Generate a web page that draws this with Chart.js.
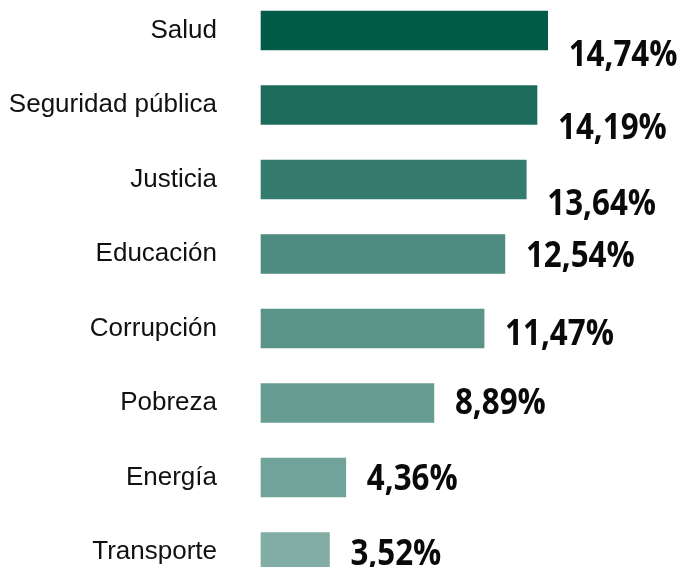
<!DOCTYPE html>
<html>
<head>
<meta charset="utf-8">
<script src="https://cdn.jsdelivr.net/npm/chart.js@4"></script>
<style>
  html, body { margin: 0; padding: 0; background: #fff; }
  .wrap { position: relative; width: 684px; height: 567px; }
</style>
</head>
<body>
<div class="wrap"><canvas id="topicsChart"></canvas></div>
<script>
const topics = ["Salud", "Seguridad pública", "Justicia", "Educación", "Corrupción", "Pobreza", "Energía", "Transporte"];
const shares = [14.74, 14.19, 13.64, 12.54, 11.47, 8.89, 4.36, 3.52];
const barColors = ["#025b49", "#1c6b5c", "#357b6f", "#4e8b80", "#5a9489", "#669c92", "#72a39a", "#82ada5"];

// value labels drawn next to each bar end (top three sit a bit lower, like the original)
const labelDrop = [22, 21, 22, 0, 3, -2, -1, 0];

const valueLabels = {
  id: "valueLabels",
  afterDatasetsDraw(chart) {
    const ctx = chart.ctx;
    const bars = chart.getDatasetMeta(0).data;
    ctx.save();
    ctx.fillStyle = "#0a0a0a";
    ctx.font = "700 36px 'Open Sans'";
    ctx.textBaseline = "alphabetic";
    ctx.textAlign = "left";
    bars.forEach((bar, i) => {
      const txt = shares[i].toFixed(2).replace(".", ",") + "%";
      ctx.save();
      ctx.translate(bar.x + 21, bar.y + labelDrop[i] + 13);
      ctx.scale(0.87, 1);
      ctx.fillText(txt, 0, 0);
      ctx.restore();
    });
    ctx.restore();
  }
};

new Chart(document.getElementById("topicsChart").getContext("2d"), {
  type: "bar",
  data: {
    labels: topics,
    datasets: [
      {
        data: shares,
        backgroundColor: barColors,
        borderWidth: 0,
        barThickness: 39,
        clip: false
      }
    ]
  },
  options: {
    indexAxis: "y",
    responsive: true,
    maintainAspectRatio: false,
    animation: false,
    layout: {
      padding: { top: 30.5, bottom: 15, left: 0, right: 0 }
    },
    plugins: {
      legend: { display: false },
      tooltip: { enabled: false }
    },
    scales: {
      x: {
        display: false,
        min: 0,
        max: 21.75
      },
      y: {
        offset: false,
        grid: { display: false, drawTicks: false },
        border: { display: false },
        afterFit: (s) => {
          s.width = 261;
          s.paddingTop = 0;
          s.paddingBottom = 0;
        },
        ticks: {
          padding: 44,
          color: "#111",
          font: { family: "'Liberation Sans', Arial, sans-serif", size: 26 }
        }
      }
    }
  },
  plugins: [valueLabels]
});
</script>
</body>
</html>
